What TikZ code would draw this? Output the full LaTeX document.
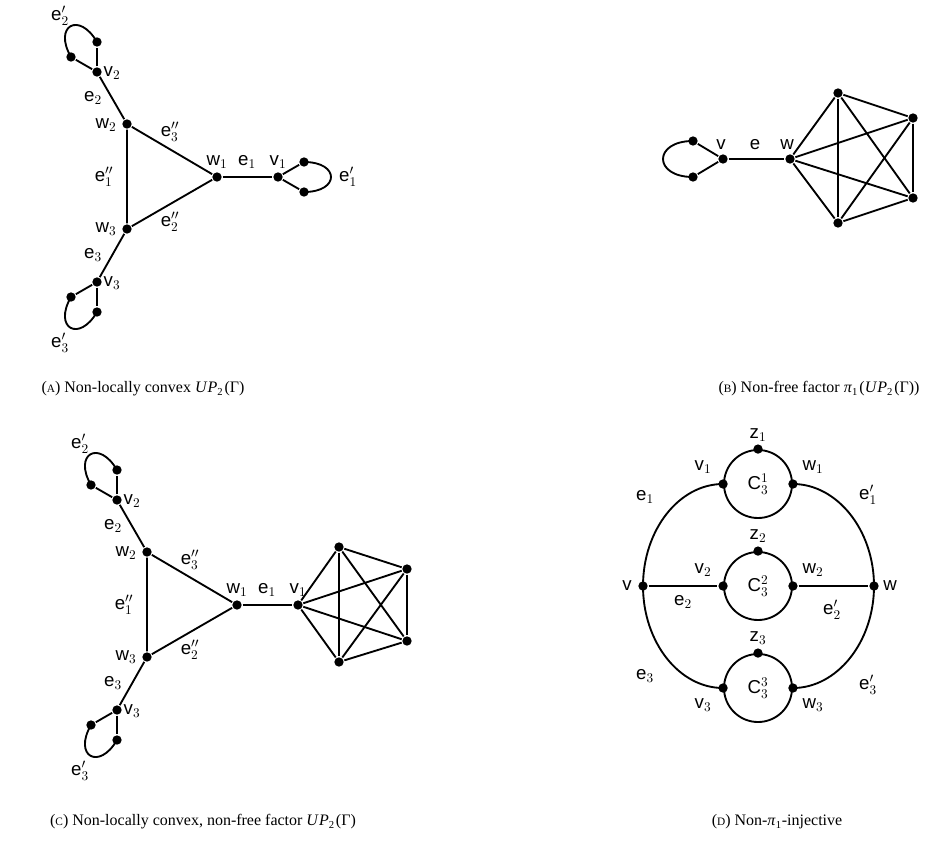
\documentclass[tikz,border=0pt]{standalone}
\usepackage{fontspec}
\setmainfont{Liberation Serif}
\newfontfamily\labfont{Liberation Sans}
\tikzset{every picture/.style={line width=1.4pt}}
\tikzset{
  dot/.style={circle,fill=black,inner sep=0pt,minimum size=7pt},
  lbl/.style={inner sep=0.75pt,font=\fontsize{14}{16}\labfont},
  captext/.style={inner sep=0.75pt,font=\fontsize{12}{14}\selectfont},
}
\newcommand{\subfig}[1]{({\fontsize{8.5}{9}\selectfont #1})}
\newcommand{\upgamma}{\textit{U\kern.8pt P}\textsubscript{2}\kern.8pt(Γ)}
% triangle with the two looped arms (used in (A) and (C))
\newcommand{\armsgraph}{%
  \node[dot] (w1) at (217,177) {};
  \node[dot] (w2) at (127,124) {};
  \node[dot] (w3) at (127,229) {};
  \node[dot] (v1) at (278,177) {};
  \node[dot] (v2) at (97,72) {};
  \node[dot] (v3) at (97,282) {};
  \node[dot] (p2) at (97,42) {};
  \node[dot] (q2) at (71,57) {};
  \node[dot] (p3) at (71,297) {};
  \node[dot] (q3) at (97,312) {};
  %Straight Lines
  \draw (w1) -- (w2) -- (w3) -- (w1);
  \draw (w1) -- (v1);
  \draw (w2) -- (v2);
  \draw (w3) -- (v3);
  \draw (v2) -- (p2);
  \draw (v2) -- (q2);
  \draw (v3) -- (p3);
  \draw (v3) -- (q3);
  %Curve Lines
  \draw (p2.center) .. controls (79,11) and (53,26) .. (q2.center);
  \draw (p3.center) .. controls (53,328) and (79,343) .. (q3.center);
  % Text Node
  \node[lbl] (lw1) at (217,162) {w$_1$};
  \node[lbl] (le1) at (247,162) {e$_1$};
  \node[lbl] (lv1) at (278,162) {v$_1$};
  \node[lbl] (lw2) at (106,125) {w$_2$};
  \node[lbl] (lw3) at (106,229) {w$_3$};
  \node[lbl] (le3b) at (170,132) {e$_3''$};
  \node[lbl] (le2b) at (170,222) {e$_2''$};
  \node[lbl] (le1b) at (104,177) {e$_1''$};
  \node[lbl] (lv2) at (112,73) {v$_2$};
  \node[lbl] (le2) at (93,98) {e$_2$};
  \node[lbl] (le2a) at (60,16) {e$_2'$};
  \node[lbl] (lv3) at (112,283) {v$_3$};
  \node[lbl] (le3) at (93,255) {e$_3$};
  \node[lbl] (le3a) at (60,343) {e$_3'$};
}

\begin{document}
\begin{tikzpicture}[x=0.75pt,y=0.75pt,yscale=-1,xscale=1]
\useasboundingbox (0,0) rectangle (944,845);

% (A)
\begin{scope}[name prefix=a-]
  \armsgraph
  \node[dot] (p1) at (304,162) {};
  \node[dot] (q1) at (304,192) {};
  \draw (v1) -- (p1);
  \draw (v1) -- (q1);
  \draw (p1.center) .. controls (340,162) and (340,192) .. (q1.center);
  % Text Node
  \node[lbl] (le1a) at (348,177) {e$_1'$};
\end{scope}

% (B)
\begin{scope}[name prefix=b-]
  \node[dot] (v) at (723,159) {};
  \node[dot] (w) at (790,159) {};
  \node[dot] (p) at (693,141) {};
  \node[dot] (q) at (693,177) {};
  \node[dot] (k2) at (838,93) {};
  \node[dot] (k3) at (913,118) {};
  \node[dot] (k4) at (913,198) {};
  \node[dot] (k5) at (838,223) {};
  \draw (v) -- (w);
  \draw (v) -- (p);
  \draw (v) -- (q);
  \draw (p.center) .. controls (653,141) and (653,177) .. (q.center);
  \foreach \i/\j in {w/k2,w/k3,w/k4,w/k5,k2/k3,k2/k4,k2/k5,k3/k4,k3/k5,k4/k5}
    \draw (\i) -- (\j);
  % Text Node
  \node[lbl] (lv) at (721,145) {v};
  \node[lbl] (le) at (755,145) {e};
  \node[lbl] (lw) at (787,145) {w};
\end{scope}

% (C)
\begin{scope}[shift={(20,428)},name prefix=c-]
  \armsgraph
  \node[dot] (k2) at (319,119) {};
  \node[dot] (k3) at (387,141) {};
  \node[dot] (k4) at (387,213) {};
  \node[dot] (k5) at (319,234) {};
  \foreach \i/\j in {v1/k2,v1/k3,v1/k4,v1/k5,k2/k3,k2/k4,k2/k5,k3/k4,k3/k5,k4/k5}
    \draw (\i) -- (\j);
\end{scope}

% (D)
\begin{scope}[name prefix=d-]
  \foreach \k/\y in {1/484,2/586,3/688} {
    \node[draw,circle,minimum size=51pt,inner sep=0pt] (c\k) at (758,\y) {};
    \node[lbl] (lc\k) at (c\k) {C$^\k_3$};
    \node[dot] (v\k) at (c\k.west) {};
    \node[dot] (w\k) at (c\k.east) {};
    \node[dot] (z\k) at (c\k.north) {};
  }
  \node[dot] (v) at (643,586) {};
  \node[dot] (w) at (874,586) {};
  \draw (v) -- (v2);
  \draw (w2) -- (w);
  \draw (v.center) .. controls (643,530) and (679,484) .. (v1.center);
  \draw (v.center) .. controls (643,642) and (679,688) .. (v3.center);
  \draw (w.center) .. controls (874,530) and (837,484) .. (w1.center);
  \draw (w.center) .. controls (874,642) and (837,688) .. (w3.center);
  % Text Node
  \node[lbl] (lv) at (627,586) {v};
  \node[lbl] (lw) at (890,586) {w};
  \node[lbl] (lv1) at (703,467) {v$_1$};
  \node[lbl] (lw1) at (813,467) {w$_1$};
  \node[lbl] (lv2) at (703,570) {v$_2$};
  \node[lbl] (lw2) at (813,570) {w$_2$};
  \node[lbl] (lv3) at (703,705) {v$_3$};
  \node[lbl] (lw3) at (813,705) {w$_3$};
  \node[lbl] (lz1) at (758,435) {z$_1$};
  \node[lbl] (lz2) at (758,536) {z$_2$};
  \node[lbl] (lz3) at (758,638) {z$_3$};
  \node[lbl] (le1) at (645,497) {e$_1$};
  \node[lbl] (le1a) at (868,495) {e$_1'$};
  \node[lbl] (le2) at (683,602) {e$_2$};
  \node[lbl] (le2a) at (832,610) {e$_2'$};
  \node[lbl] (le3) at (645,676) {e$_3$};
  \node[lbl] (le3a) at (868,685) {e$_3'$};
\end{scope}

% Captions
\node[captext] (capa) at (143,389) {\subfig{A} Non-locally convex \upgamma};
\node[captext] (capb) at (819,389) {\subfig{B} Non-free factor \textit{π}\textsubscript{1}\kern1pt(\upgamma)};
\node[captext] (capc) at (203,822) {\subfig{C} Non-locally convex, non-free factor \upgamma};
\node[captext] (capd) at (777,822) {\subfig{D} Non-\textit{π}\textsubscript{1}-injective};

\end{tikzpicture}
\end{document}
